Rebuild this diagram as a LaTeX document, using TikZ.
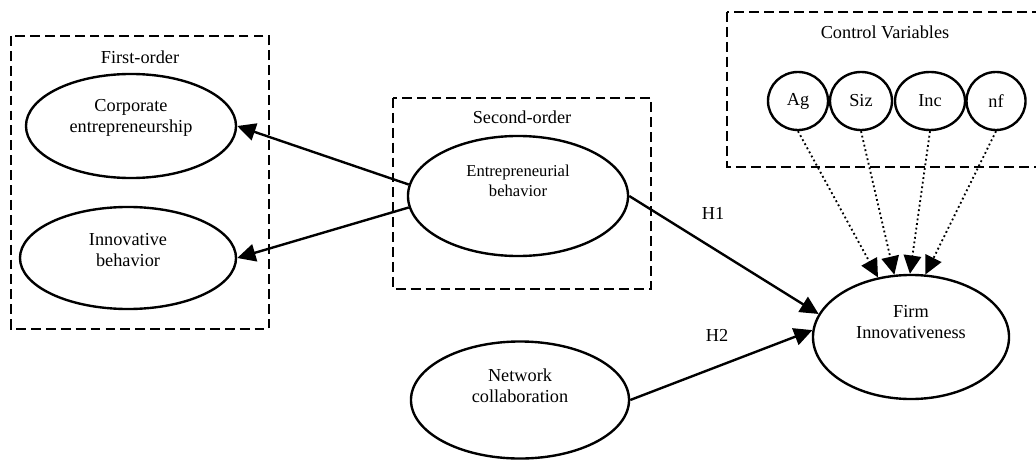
\documentclass[tikz,border=0pt]{standalone}
\usepackage{fontspec}
\setmainfont{Liberation Serif}
\usetikzlibrary{shapes.geometric}
\usetikzlibrary{arrows.meta}

\begin{document}
\begin{tikzpicture}[x=0.025cm, y=-0.025cm, line width=1.7pt,
  every node/.style={font=\fontsize{13}{15}\selectfont},
  latent/.style={draw, ellipse, inner sep=0pt},
  group/.style={dash pattern=on 7pt off 3.6pt},
  path/.style={-{Triangle[length=13pt,width=12.5pt]}},
  ctrl/.style={path, line width=1.3pt, dash pattern=on 1.3pt off 2pt},
  inside/.style={align=center}]
\useasboundingbox (0,0) rectangle (1036,459);
\clip (0,0) rectangle (1036,459);
% the dashed boxes
\draw[group] (11,36) rectangle (269,329);
\draw[group] (393,98) rectangle (651,289);
\draw[group] (727,12) rectangle (1050,167);
\node (first) at (140,57) {First-order};
\node (second) at (522,117) {Second-order};
\node (control) at (885,32) {Control Variables};
% first-order factors
\node[latent, minimum width=5.25cm, minimum height=2.6cm,
  label={[inside, yshift=5.7pt]center:Corporate\\entrepreneurship}] (corp) at (131,126) {};
\node[latent, minimum width=5.4cm, minimum height=2.55cm,
  label={[inside, yshift=5.7pt]center:Innovative\\behavior}] (inno) at (128,258) {};
% second-order factor
\node[latent, minimum width=5.5cm, minimum height=3cm,
  label={[inside, yshift=11pt, font=\fontsize{11.8}{14}\selectfont]center:Entrepreneurial\\behavior}] (entb) at (518,196) {};
% outcome and network
\node[latent, minimum width=4.9cm, minimum height=3.1cm,
  label={[inside, yshift=10.6pt]center:Firm\\Innovativeness}] (firm) at (911,337) {};
\node[latent, minimum width=5.45cm, minimum height=2.925cm,
  label={[inside, yshift=10pt]center:Network\\collaboration}] (netw) at (520,400) {};
% control variables
\node[latent, minimum width=1.5cm, minimum height=1.45cm] (age) at (798,101) {Ag};
\node[latent, minimum width=1.55cm, minimum height=1.45cm] (size) at (861,101) {Siz};
\node[latent, minimum width=1.75cm, minimum height=1.45cm] (ind) at (930,101) {Inc};
\node[latent, minimum width=1.475cm, minimum height=1.45cm] (inf) at (996,101) {nf};
% the paths
\draw[path] (entb.174) -- (corp.east);
\draw[path] (entb.186) -- (inno.east);
\draw[path] (entb.east) -- (firm.166);
\draw[path] (netw.east) -- (firm.176);
\node (h1) at (713,213) {H1};
\node (h2) at (717,335) {H2};
%     dotted paths
\draw[ctrl] (age.south) -- (firm.119);
\draw[ctrl] (size.south) -- (firm.105);
\draw[ctrl] (ind.south) -- (firm.91);
\draw[ctrl] (inf.south) -- (firm.77);
\end{tikzpicture}
\end{document}
